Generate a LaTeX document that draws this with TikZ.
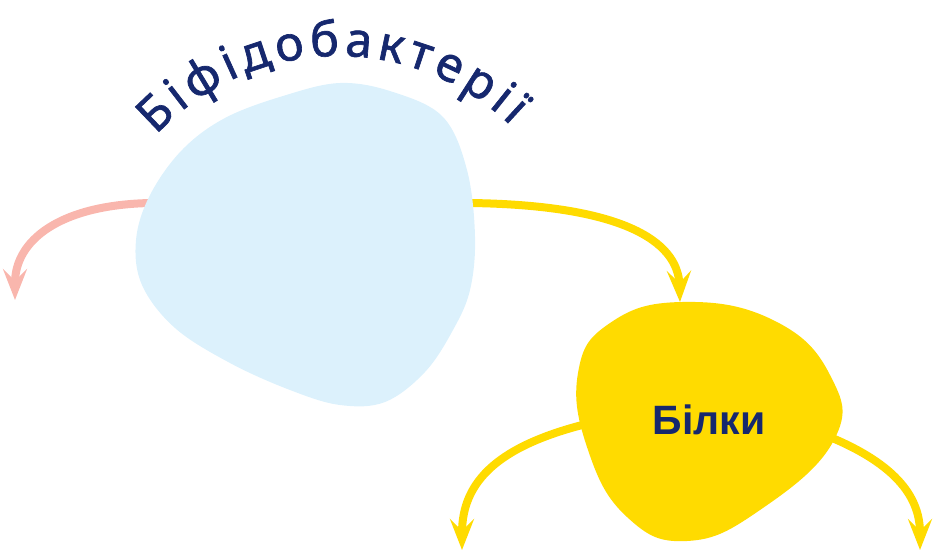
\documentclass[tikz,border=0pt]{standalone}
\usepackage{fontspec}
\setmainfont{Liberation Sans}
\newfontfamily\arcfont[FakeBold=1.4]{Noto Sans}
\usetikzlibrary{arrows.meta,decorations.text}

\definecolor{navy}{RGB}{22,40,110}
\definecolor{lightblue}{RGB}{220,241,252}
\definecolor{protein}{RGB}{255,219,0}
\definecolor{salmon}{RGB}{249,182,173}

\newcommand{\arctextfont}{\arcfont\fontsize{48}{52}\selectfont}

\tikzstyle{pink_arrow}=[line width=8pt,draw=salmon,-{Stealth[length=31pt,width=24pt,inset=12pt]}]
\tikzstyle{yellow_arrow}=[line width=8pt,draw=protein,-{Stealth[length=31pt,width=24pt,inset=12pt]}]
\tikzstyle{blob_label}=[text=navy,font=\bfseries\fontsize{41}{46}\selectfont]

\begin{document}
\begin{tikzpicture}[x=1pt,y=-1pt]
\useasboundingbox (0,0) rectangle (936,557);

\coordinate (start01) at (150,203);
\coordinate (start02) at (470,203);
\coordinate (start03) at (590,423);
\coordinate (start04) at (825,435);
\coordinate (tip01) at (15,300);
\coordinate (tip02) at (680,302);
\coordinate (tip03) at (462,550);
\coordinate (tip04) at (920,550);

% arrows behind the blobs
\draw[pink_arrow] (start01) .. controls (60,205) and (15,240) .. (tip01);
\draw[yellow_arrow] (start02) .. controls (620,205) and (678,240) .. (tip02);
\draw[yellow_arrow] (start03) .. controls (500,445) and (462,480) .. (tip03);
\draw[yellow_arrow] (start04) .. controls (900,465) and (920,500) .. (tip04);

% bifidobacteria blob
\fill[lightblue] plot[smooth cycle,tension=0.6] coordinates {
 (340,83) (393,92) (443,117) (467,170) (475,237) (470,290) (453,330)
 (425,372) (385,402) (340,405) (290,390) (230,363) (175,328) (142,285)
 (136,240) (150,195) (182,150) (225,118) (283,96)};

% protein blob
\fill[protein] plot[smooth cycle,tension=0.75] coordinates {
 (682,302) (773,320) (830,375) (834,440) (760,510) (687,541) (627,517)
 (588,450) (578,373) (610,323)};

\node [blob_label] (label01) at (709,420) {Білки};

\path[decorate,decoration={text along path,text color=navy,
  text align=fit to path,text={|\arctextfont|Біфідобактерії}}]
  (338,305) ++(-137:249) arc[start angle=-137,end angle=-46,radius=249];

\end{tikzpicture}
\end{document}
